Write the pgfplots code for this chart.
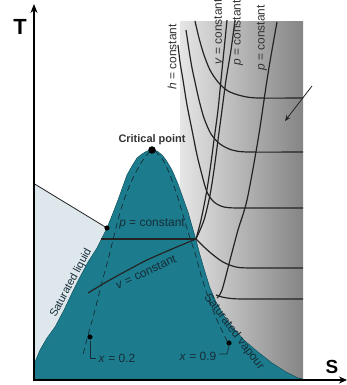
\documentclass[border=0pt]{standalone}
\usepackage{pgfplots}
\pgfplotsset{compat=1.18}
\usepackage{fontspec}
\setmainfont{Liberation Sans}
\usetikzlibrary{arrows.meta}
\definecolor{teal1}{RGB}{28,124,142}
\definecolor{tealdark}{RGB}{15,80,92}
\definecolor{lightreg}{RGB}{222,232,236}
\definecolor{txtdark}{RGB}{22,45,55}
\definecolor{curvec}{RGB}{35,35,35}
\tikzset{lbl/.style={font=\fontsize{12}{14}\selectfont, inner sep=0pt}}
\pgfplotsset{cl/.style={draw=curvec, line width=1.2pt, no marks, smooth, tension=0.5}}
\begin{document}
\begin{tikzpicture}
\path[use as bounding box, clip] (0,0) rectangle (347bp,385bp);
\begin{axis}[
  at={(0,0)}, anchor=south west,
  scale only axis, width=347bp, height=385bp,
  xmin=0, xmax=347, ymin=0, ymax=385, y dir=reverse,
  axis lines=none, clip=false,
]
% superheated gray gradient
\addplot[draw=none, left color=black!10, right color=black!48, no marks]
  coordinates {(180,22) (303,22) (303,380) (180,380) (180,22)};
% compressed liquid light region
\addplot[draw=none, fill=lightreg, no marks]
  coordinates {(34,183) (107,228) (103,236) (97,248) (88,262) (80,277) (72,293) (64,310) (55,327) (47,338) (40,350) (35,362) (34,362) (34,183)};
% dome
\addplot[fill=teal1, draw=tealdark, line width=0.5pt, no marks]
  coordinates {(34,379) (35,362) (40,350) (47,338) (55,327) (64,310) (72,293) (80,277) (88,262) (97,248) (103,236) (107,228) (113,213) (118,200) (123,186) (127,175) (132,166) (137,158) (142,154) (147,151) (152,150) (157,151) (162,155) (166,160) (172,170) (178,184) (183,198) (188,212) (192,226) (196,240) (200,255) (205,272) (210,288) (216,302) (224,316) (233,328) (245,341) (258,352) (272,363) (286,372) (298,378) (303,379) (34,379)};
% quality lines
\addplot[draw=txtdark, line width=0.7pt, dash pattern=on 6pt off 4pt, no marks, smooth]
  coordinates {(150,151) (141,163) (132,180) (124,200) (118,220) (113,240) (108,260) (102,282) (95,310) (88,335) (83,355)};
\addplot[draw=txtdark, line width=0.7pt, dash pattern=on 6pt off 4pt, no marks, smooth]
  coordinates {(155,151) (163,160) (170,175) (177,195) (183,215) (189,235) (195,253) (201,275) (208,297) (217,320) (228,343)};
% p = constant in dome and v = constant in dome
\addplot[draw=curvec, line width=1.2pt, no marks] coordinates {(101,239) (196,239)};
\addplot[cl] coordinates {(88,293) (108,281) (128,270) (147,260) (172,249) (196,239)};
% h = constant curves
\addplot[cl] coordinates {(195,21) (199,38) (204,55) (210,70) (218,82) (228,91) (242,96) (258,98) (303,98)};
\addplot[cl] coordinates {(186,30) (189,50) (192,68) (195,82) (199,100) (204,118) (211,134) (220,144) (232,150) (248,152) (303,152)};
\addplot[cl] coordinates {(178,45) (180,62) (183,80) (187,105) (192,130) (197,155) (202,175) (207,192) (214,202) (224,207) (240,208) (303,208)};
\addplot[cl] coordinates {(196,239) (203,246) (212,254) (223,262) (236,267) (252,268) (303,268)};
\addplot[cl] coordinates {(216,295) (222,297) (231,298.5) (245,299) (303,299)};
% v and p constant lines
\addplot[cl] coordinates {(227,20) (224,50) (221,80) (218,110) (214,140) (210,170) (206,195) (201,220) (196,239)};
\addplot[cl] coordinates {(235,20) (231,50) (226,80) (222,110) (218,140) (214,170) (210,195) (204,220) (196,239)};
\addplot[cl] coordinates {(277,22) (272,50) (267,80) (258,140) (247,200) (238,230) (230,260) (222,290) (217,298)};
% leader lines
\addplot[draw=curvec, line width=0.8pt, no marks] coordinates {(33,183) (107,228)};
\addplot[draw=curvec, line width=0.8pt, no marks, -{Stealth[length=6pt,width=5pt]}] coordinates {(312,86) (285,121)};
% brackets for quality labels
\addplot[draw=txtdark, line width=0.7pt, no marks] coordinates {(90,341) (90,358) (96,358)};
\addplot[draw=txtdark, line width=0.7pt, no marks] coordinates {(229,346) (227,354) (219,354)};
% dots
\addplot[only marks, mark=*, mark size=3.5pt, black] coordinates {(152,150)};
\addplot[only marks, mark=*, mark size=2.3pt, black] coordinates {(107,228) (90,337) (229,343)};
% axes
\addplot[draw=black, line width=1.4pt, no marks, -{Stealth[length=9pt,width=7pt]}] coordinates {(34,381) (34,4)};
\addplot[draw=black, line width=2.2pt, no marks, -{Stealth[length=8pt,width=7pt]}] coordinates {(33,380) (347,380)};
% labels
\node[font=\fontsize{22}{24}\selectfont\bfseries] at (axis cs:20,27) {T};
\node[font=\fontsize{19}{21}\selectfont\bfseries] at (axis cs:332,367) {S};
\node[lbl, font=\fontsize{11}{13}\selectfont\bfseries, text=black!80] at (axis cs:152,140) {Critical point};
\node[lbl, text=txtdark] at (axis cs:152,224) {\textit{p} = constant};
\node[lbl, text=txtdark, rotate=25] at (axis cs:146,272) {\textit{v} = constant};
\node[lbl, font=\fontsize{11}{13}\selectfont, text=txtdark, rotate=62] at (axis cs:71,283) {Saturated liquid};
\node[lbl, text=txtdark, rotate=-53] at (axis cs:234,332) {Saturated vapour};
\node[lbl, text=txtdark] at (axis cs:117,358) {\textit{x} = 0.2};
\node[lbl, text=txtdark] at (axis cs:198,356) {\textit{x} = 0.9};
\node[lbl, text=black!80, rotate=90] at (axis cs:172,57) {\textit{h} = constant};
\node[lbl, text=black!80, rotate=90] at (axis cs:218,32) {\textit{v} = constant};
\node[lbl, text=black!80, rotate=90] at (axis cs:238,33) {\textit{p} = constant};
\node[lbl, text=black!80, rotate=90] at (axis cs:262,38) {\textit{p} = constant};
\end{axis}
\end{tikzpicture}
\end{document}
